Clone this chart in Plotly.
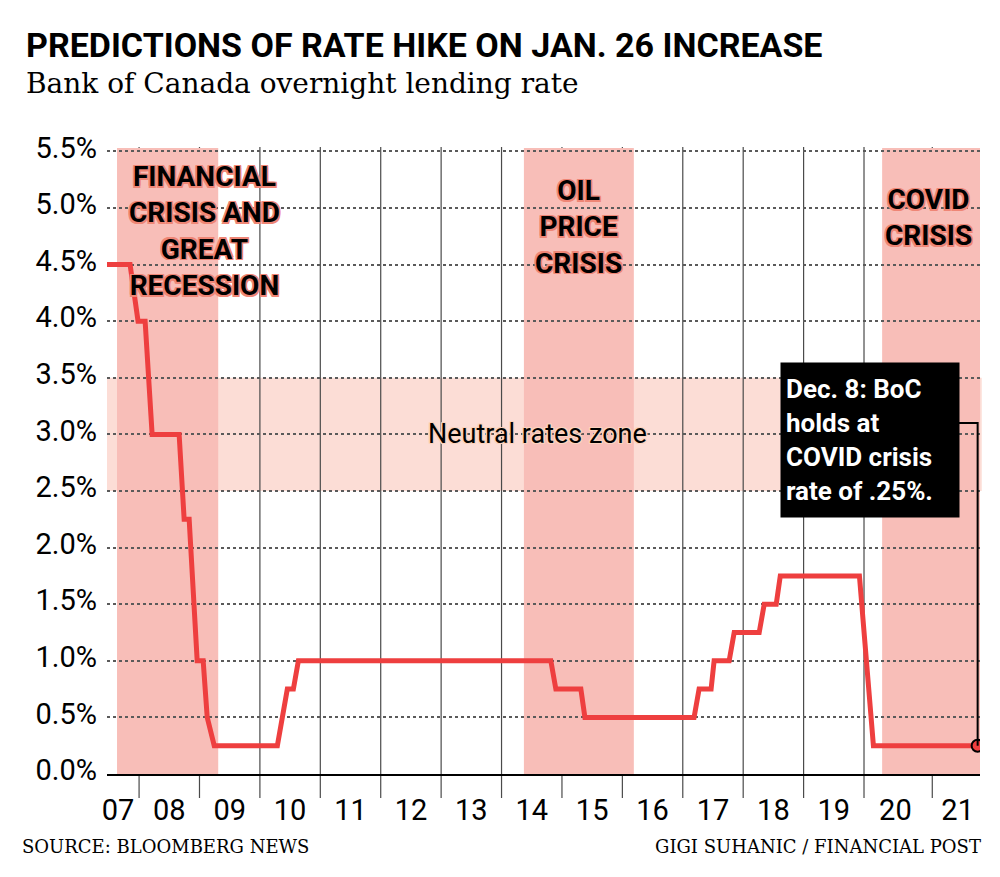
import plotly.graph_objects as go

# ---------------- data ----------------
rate_dates = [2007.469, 2007.851, 2007.983, 2008.100, 2008.216, 2008.663, 2008.746, 2008.829,
              2008.962, 2009.061, 2009.128, 2009.244, 2010.289, 2010.454, 2010.554, 2010.637,
              2014.816, 2014.899, 2015.313, 2015.380, 2017.187, 2017.270, 2017.469, 2017.519,
              2017.768, 2017.851, 2018.265, 2018.348, 2018.547, 2018.614, 2019.924, 2020.156,
              2021.881]
rates = [4.5, 4.5, 4.0, 4.0, 3.0, 3.0, 2.25, 2.25,
         1.0, 1.0, 0.5, 0.25, 0.25, 0.75, 0.75, 1.0,
         1.0, 0.75, 0.75, 0.5, 0.5, 0.75, 0.75, 1.0,
         1.0, 1.25, 1.25, 1.5, 1.5, 1.75, 1.75, 0.25,
         0.25]

crisis_labels = ["FINANCIAL<br>CRISIS AND<br>GREAT<br>RECESSION", "OIL<br>PRICE<br>CRISIS", "COVID<br>CRISIS"]
crisis_start = [2007.635, 2014.37, 2020.30]
crisis_end = [2009.31, 2016.19, 2021.93]
crisis_label_x = [2009.08, 2015.28, 2021.07]
crisis_label_y = [4.80, 4.83, 4.92]

neutral_low, neutral_high = 2.5, 3.5
year_lines = [2008, 2009, 2010, 2011, 2012, 2013, 2014, 2015, 2016, 2017, 2018, 2019, 2020, 2021.13]
tick_pos = [2007.65, 2008.5, 2009.5, 2010.5, 2011.5, 2012.5, 2013.5, 2014.5, 2015.5, 2016.5,
            2017.5, 2018.5, 2019.5, 2020.52, 2021.55]
tick_text = ["07", "08", "09", "10", "11", "12", "13", "14", "15", "16", "17", "18", "19", "20", "21"]
y_ticks = [0, 0.5, 1.0, 1.5, 2.0, 2.5, 3.0, 3.5, 4.0, 4.5, 5.0, 5.5]
y_text = ["0.0%", "0.5%", "1.0%", "1.5%", "2.0%", "2.5%", "3.0%", "3.5%", "4.0%", "4.5%", "5.0%", "5.5%"]

title = "PREDICTIONS OF RATE HIKE ON JAN. 26 INCREASE"
subtitle = "Bank of Canada overnight lending rate"
source = "SOURCE: BLOOMBERG NEWS"
credit = "GIGI SUHANIC / FINANCIAL POST"
callout = "Dec. 8: BoC<br>holds at<br>COVID crisis<br>rate of .25%."

# ---------------- styling ----------------
RED = "#ee3f3f"
SHADE = "#f8beb8"
BAND = "#fcddd6"
W, H = 1000, 877
L, R, T, B = 107, 20, 148, 103
XR = [2007.469, 2021.92]
YR = [0, 5.53]

def px_x(p):  # pixel -> paper x
    return (p - L) / (W - L - R)

def px_y(p):  # pixel -> paper y
    return (H - B - p) / (H - T - B)

def outline(color, d=1.5):
    parts = []
    for dx, dy in [(-d, -d), (d, -d), (-d, d), (d, d), (0, d), (0, -d), (d, 0), (-d, 0)]:
        parts.append(f"{dx}px {dy}px 0 {color}")
    return ", ".join(parts)

fig = go.Figure()

fig.add_trace(go.Scatter(x=rate_dates, y=rates, mode="lines",
                         line=dict(color=RED, width=5), hoverinfo="skip", showlegend=False))
fig.add_trace(go.Scatter(x=[rate_dates[-1]], y=[rates[-1]], mode="markers",
                         marker=dict(size=12, color=RED, line=dict(color="black", width=2)),
                         hoverinfo="skip", showlegend=False))

shapes = []
for s, e in zip(crisis_start, crisis_end):
    shapes.append(dict(type="rect", xref="x", yref="y", x0=s, x1=e, y0=0, y1=YR[1],
                       fillcolor=SHADE, line=dict(width=0), layer="below"))
shapes.append(dict(type="rect", xref="paper", yref="y", x0=0, x1=1.002, y0=neutral_low, y1=neutral_high,
                   fillcolor=BAND, line=dict(width=0), layer="below"))
for yl in year_lines:
    shapes.append(dict(type="line", xref="x", yref="paper", x0=yl, x1=yl, y0=px_y(798), y1=px_y(147),
                       line=dict(color="#4a4a4a", width=1.2), layer="between"))

# callout box geometry (data coords)
box_left_x, box_right_x = 2018.61, 2021.565
box_top_y, box_bot_y = 3.63, 2.27
conn_y = 3.10
shapes.append(dict(type="path", xref="x", yref="y",
                   path=f"M {box_right_x},{conn_y} L {rate_dates[-1]},{conn_y} L {rate_dates[-1]},{rates[-1]}",
                   line=dict(color="black", width=2), layer="above"))
fig.update_layout(shapes=shapes)

ann = []
for lab, x, y in zip(crisis_labels, crisis_label_x, crisis_label_y):
    ann.append(dict(x=x, y=y, xref="x", yref="y", text=lab, showarrow=False,
                    xanchor="center", yanchor="middle", align="center",
                    font=dict(family="Roboto", size=28, color="black", weight=700,
                              shadow=outline("#ef8676"))))
ann.append(dict(x=2014.6, y=3.0, xref="x", yref="y", text="Neutral rates zone", showarrow=False,
                xanchor="center", yanchor="middle",
                font=dict(family="Roboto", size=27, color="black", shadow=outline("#fcd3bd", 1.2))))
ann.append(dict(x=box_left_x, y=(box_top_y + box_bot_y) / 2, xref="x", yref="y", text=callout,
                showarrow=False, xanchor="left", yanchor="middle", align="left", valign="middle",
                bgcolor="black", borderpad=5, width=168, height=144,
                font=dict(family="Roboto", size=26, color="white", weight=700)))
ann.append(dict(x=px_x(24), y=px_y(45), xref="paper", yref="paper", text=title, showarrow=False,
                xanchor="left", yanchor="middle",
                font=dict(family="Roboto", size=34, color="black", weight=700)))
ann.append(dict(x=px_x(24), y=px_y(83), xref="paper", yref="paper", text=subtitle, showarrow=False,
                xanchor="left", yanchor="middle",
                font=dict(family="DejaVu Serif", size=28, color="black")))
ann.append(dict(x=px_x(20), y=px_y(846), xref="paper", yref="paper", text=source, showarrow=False,
                xanchor="left", yanchor="middle",
                font=dict(family="DejaVu Serif", size=18, color="black")))
ann.append(dict(x=px_x(983), y=px_y(846), xref="paper", yref="paper", text=credit, showarrow=False,
                xanchor="right", yanchor="middle",
                font=dict(family="DejaVu Serif", size=18, color="black")))
fig.update_layout(annotations=ann)

fig.update_layout(
    width=W, height=H,
    margin=dict(l=L, r=R, t=T, b=B, pad=0),
    paper_bgcolor="white", plot_bgcolor="rgba(0,0,0,0)",
    showlegend=False,
    xaxis=dict(range=XR, tickvals=tick_pos, ticktext=tick_text, showgrid=False, zeroline=False,
               showline=True, linecolor="black", linewidth=2, ticks="",
               tickfont=dict(family="Roboto", size=29, color="black"), ticklabelstandoff=9,
               fixedrange=True),
    yaxis=dict(range=YR, tickvals=y_ticks, ticktext=y_text, showgrid=True, gridcolor="#5a5a5a",
               griddash="dot", gridwidth=1.5, zeroline=False, showline=False, ticks="",
               tickfont=dict(family="Roboto", size=29, color="black"), ticklabelstandoff=9,
               ticklabelshift=-4, fixedrange=True),
)

fig.write_html("out.html", config={"displayModeBar": False},
               post_script="document.body.style.margin='0';document.body.style.overflow='hidden';")
